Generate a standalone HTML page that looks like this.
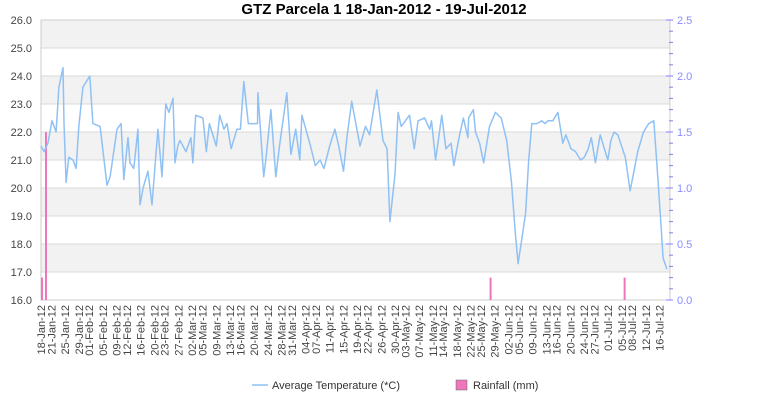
<!DOCTYPE html>
<html><head><meta charset="utf-8"><style>
body{margin:0;background:#fff;font-family:"Liberation Sans",sans-serif}
svg{display:block}
</style></head><body>
<svg id="chart" width="770" height="400">
<text x="384" y="14" text-anchor="middle" font-size="15" font-weight="bold">GTZ Parcela 1  18-Jan-2012 - 19-Jul-2012</text>
<g id="legend">
<line x1="252" y1="385" x2="268" y2="385" stroke="#8fc1f5" stroke-width="1.5"/>
<text x="272" y="389" font-size="11" fill="#333">Average Temperature (*C)</text>
<rect x="456" y="380" width="11" height="10" fill="#ee77bb" stroke="#666" stroke-width="0.5"/>
<text x="473" y="389" font-size="11" fill="#333">Rainfall (mm)</text>
</g>
</svg>
<script>
const tempDays=[0,0.9,2.0,3.2,4.4,5.2,6.4,6.7,7.3,8.1,9.3,10.2,11.0,12.2,14.2,15.1,17.2,19.2,20.1,22.1,23.3,24.1,25.3,25.9,27.0,28.2,28.8,29.7,31.1,32.3,34.0,35.2,36.3,37.2,38.4,39.0,39.8,40.4,42.2,43.6,44.2,45.0,47.1,48.1,49.0,51.0,52.0,53.2,54.1,55.3,57.0,58.0,59.0,60.3,63.0,63.1,64.8,65.4,66.9,68.3,69.4,71.5,72.7,74.1,75.3,75.9,78.4,79.8,81.2,82.3,84.0,85.5,86.6,88.0,89.0,90.4,92.8,94.4,95.6,96.5,97.7,99.5,100.7,101.5,103.0,103.9,104.8,107.2,108.6,109.7,111.6,113.1,113.6,114.8,116.6,117.8,119.3,120.1,121.8,122.9,124.2,124.4,125.8,126.4,127.6,128.8,130.5,132.2,133.9,135.5,136.9,138.0,138.8,139.9,141.0,141.9,142.8,144.3,145.7,146.6,147.5,148.9,150.4,151.8,152.7,154.2,155.5,157.0,158.1,159.2,160.1,161.3,162.7,164.9,165.8,166.7,167.8,170.0,171.4,172.2,173.6,175.3,176.8,178.3,179.1,180.2,181.0,182.1,182.7];
const tempVals=[21.5,21.3,21.6,22.4,22.0,23.6,24.3,22.3,20.2,21.1,21.0,20.7,22.2,23.6,24.0,22.3,22.2,20.1,20.4,22.1,22.3,20.3,21.8,20.9,20.7,22.1,19.4,20.0,20.6,19.4,22.1,20.4,23.0,22.7,23.2,20.9,21.5,21.7,21.3,21.8,20.9,22.6,22.5,21.3,22.3,21.5,22.6,22.1,22.3,21.4,22.1,22.1,23.8,22.3,22.3,23.4,20.4,21.0,22.8,20.4,21.5,23.4,21.2,22.1,21.0,22.6,21.5,20.8,21.0,20.7,21.5,22.1,21.5,20.6,21.8,23.1,21.5,22.2,21.9,22.6,23.5,21.7,21.4,18.8,20.5,22.7,22.2,22.6,21.4,22.4,22.5,22.1,22.4,21.0,22.6,21.4,21.6,20.8,21.9,22.5,21.8,22.5,22.8,22.0,21.6,20.9,22.2,22.7,22.5,21.7,20.2,18.4,17.3,18.2,19.1,21.0,22.3,22.3,22.4,22.3,22.4,22.4,22.7,21.6,21.9,21.4,21.3,21.0,21.1,21.4,21.8,20.9,21.9,21.0,21.7,22.0,21.9,21.1,19.9,20.4,21.3,22.0,22.3,22.4,21.0,19.0,17.5,17.1];
const rainDays=[0.3,1.45,130.8,169.8];
const rainVals=[0.2,1.5,0.2,0.2];
const leftTicks=[16,17,18,19,20,21,22,23,24,25,26];
const rightTicks=[0,0.5,1.0,1.5,2.0,2.5];
const xLabels=["18-Jan-12","21-Jan-12","25-Jan-12","29-Jan-12","01-Feb-12","05-Feb-12","09-Feb-12","12-Feb-12","16-Feb-12","20-Feb-12","23-Feb-12","27-Feb-12","02-Mar-12","05-Mar-12","09-Mar-12","13-Mar-12","16-Mar-12","20-Mar-12","24-Mar-12","28-Mar-12","31-Mar-12","04-Apr-12","07-Apr-12","11-Apr-12","15-Apr-12","19-Apr-12","22-Apr-12","26-Apr-12","30-Apr-12","03-May-12","07-May-12","11-May-12","14-May-12","18-May-12","22-May-12","25-May-12","29-May-12","02-Jun-12","05-Jun-12","09-Jun-12","13-Jun-12","16-Jun-12","20-Jun-12","24-Jun-12","27-Jun-12","01-Jul-12","05-Jul-12","08-Jul-12","12-Jul-12","16-Jul-12"];

const NS="http://www.w3.org/2000/svg";
const svg=document.getElementById('chart');
const L=41,R=670,T=20,B=300,DAYS=183;
const x=d=>L+d*(R-L)/DAYS;
const yL=v=>B-(v-16)*(B-T)/10;
const yR=v=>B-v*(B-T)/2.5;
const mon={Jan:0,Feb:1,Mar:2,Apr:3,May:4,Jun:5,Jul:6};
const base=Date.UTC(2012,0,18);
const dayOf=s=>{const p=s.split('-');return (Date.UTC(2012,mon[p[1]],+p[0])-base)/864e5;};
function mk(tag,attrs,parent){const e=document.createElementNS(NS,tag);for(const k in attrs)e.setAttribute(k,attrs[k]);(parent||svg).appendChild(e);return e;}

const plot=mk('g',{});


for(let i=0;i<10;i++){
  const r=mk('rect',{x:L,y:yL(16+i+1),width:R-L,height:yL(16)-yL(17),fill:(i%2===1)?'#f2f2f2':'#ffffff'},plot);
  
  
}
leftTicks.forEach(v=>{
  const l=mk('line',{x1:L,x2:R,y1:yL(v),y2:yL(v),stroke:'#d9d9d9','stroke-width':1},plot);
  
  
  const t=mk('text',{x:32,y:yL(v)+4,'text-anchor':'end','font-size':11,fill:'#444'});
  t.textContent=v.toFixed(1);
  
  
});
const frame=mk('rect',{x:L,y:T,width:R-L,height:B-T,fill:'none',stroke:'#ccc'},plot);



for(let v=0;v<=2.5001;v+=0.1){
  const major=Math.abs(v*2-Math.round(v*2))<1e-6;
  const tk=mk('line',{x1:R+(major?-4:-1),x2:R+3,y1:yR(v),y2:yR(v),stroke:'#8080ff'});
  
  
}
rightTicks.forEach(v=>{
  const t=mk('text',{x:677,y:yR(v)+4,'font-size':11,fill:'#8c8cff'});
  t.textContent=v.toFixed(1);
  
  
});
xLabels.forEach(s=>{
  const px=x(dayOf(s));
  const t=mk('text',{x:0,y:0,'text-anchor':'end','font-size':11,fill:'#444',transform:`translate(${px+4},305) rotate(-90)`});
  t.textContent=s;
  
  
});
rainDays.forEach((d,i)=>{
  const r=mk('rect',{x:x(d)-1,y:yR(rainVals[i]),width:2,height:B-yR(rainVals[i]),fill:'#ee77bb'});
  
  
});
const pts=tempDays.map((d,i)=>x(d).toFixed(1)+','+yL(tempVals[i]).toFixed(1)).join(' ');
const line=mk('polyline',{points:pts,fill:'none',stroke:'#8fc1f5','stroke-width':1.5,'stroke-linejoin':'round'});


</script>
</body></html>
